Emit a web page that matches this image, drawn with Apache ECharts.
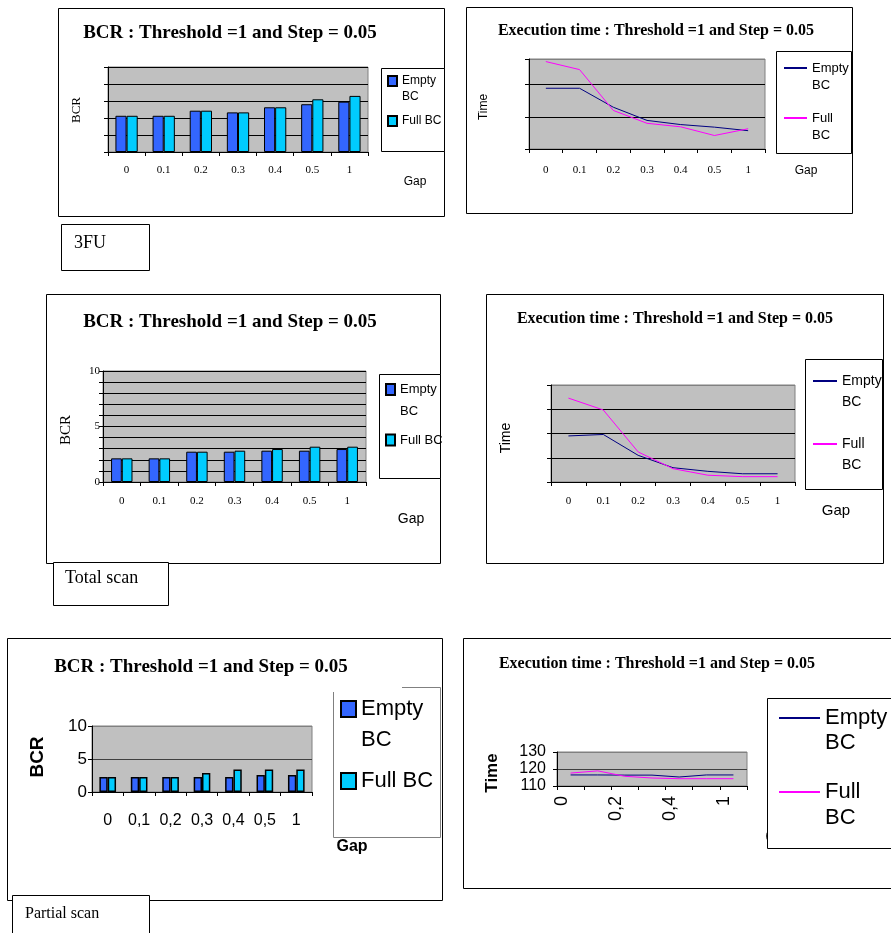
<!DOCTYPE html>
<html>
<head>
<meta charset="utf-8">
<script src="https://cdn.jsdelivr.net/npm/echarts@6/dist/echarts.min.js"></script>
<style>
html,body{margin:0;padding:0;background:#fff;}
#chart{width:891px;height:933px;}
</style>
</head>
<body>
<div id="chart"></div>
<script>
// ---------------- DATA ----------------
const gapLabels = ['0', '0.1', '0.2', '0.3', '0.4', '0.5', '1'];
const gapLabelsComma = ['0', '0,1', '0,2', '0,3', '0,4', '0,5', '1'];

const fu3BcrEmpty = [2.13, 2.13, 2.43, 2.33, 2.63, 2.81, 2.96];
const fu3BcrFull  = [2.13, 2.13, 2.43, 2.33, 2.63, 3.10, 3.30];
const fu3TimeEmpty = [1.89, 1.89, 1.30, 0.89, 0.76, 0.68, 0.57];
const fu3TimeFull  = [2.72, 2.47, 1.20, 0.80, 0.69, 0.42, 0.63];

const totalBcrEmpty = [2.13, 2.13, 2.73, 2.73, 2.82, 2.82, 2.97];
const totalBcrFull  = [2.13, 2.13, 2.73, 2.82, 2.97, 3.18, 3.18];
const totalTimeEmpty = [1.90, 1.96, 1.10, 0.59, 0.44, 0.34, 0.34];
const totalTimeFull  = [3.46, 2.97, 1.24, 0.55, 0.28, 0.22, 0.22];

const partialBcrEmpty = [2.28, 2.28, 2.28, 2.28, 2.28, 2.59, 2.59];
const partialBcrFull  = [2.28, 2.28, 2.28, 2.89, 3.40, 3.40, 3.40];
const partialTimeEmpty = [116.5, 116.5, 116.4, 116.4, 115.3, 116.5, 116.5];
const partialTimeFull  = [117.6, 118.9, 115.7, 114.7, 114.3, 114.3, 114.3];

const bcrTitle = 'BCR : Threshold =1 and Step = 0.05';
const timeTitle = 'Execution time : Threshold =1 and Step = 0.05';

// ---------------- STYLE ----------------
const SERIF = "'Liberation Serif', 'Times New Roman', serif";
const SANS = "'Liberation Sans', Arial, sans-serif";
const C_EMPTY_BAR = '#3366ff';
const C_FULL_BAR = '#00ccff';
const C_EMPTY_LINE = '#000080';
const C_FULL_LINE = '#ff00ff';
const PLOT_BG = '#c0c0c0';

const grids = [
  {left: 108, top: 67, width: 260, height: 85},
  {left: 529, top: 59, width: 236, height: 90},
  {left: 103, top: 371, width: 263, height: 111},
  {left: 551, top: 385, width: 244, height: 97},
  {left: 92, top: 726, width: 220, height: 66},
  {left: 557, top: 752, width: 190, height: 34}
].map(g => Object.assign({show: true, backgroundColor: PLOT_BG, borderColor: '#808080', borderWidth: 1, containLabel: false, outerBoundsMode: 'none'}, g));

function xAx(i, data, labelOpts) {
  return {
    type: 'category', gridIndex: i, data: data, boundaryGap: true,
    axisLine: {show: true, lineStyle: {color: '#000', width: 1}},
    axisTick: {show: true, length: 4, interval: 0, lineStyle: {color: '#000'}},
    axisLabel: Object.assign({color: '#000'}, labelOpts),
    splitLine: {show: false}
  };
}
function yAx(i, min, max, interval, labelOpts, splitColors) {
  return {
    type: 'value', gridIndex: i, min: min, max: max, interval: interval,
    axisLine: {show: true, lineStyle: {color: '#000', width: 1}},
    axisTick: {show: true, length: 4, lineStyle: {color: '#000'}},
    axisLabel: Object.assign({color: '#000'}, labelOpts),
    splitLine: {show: true, lineStyle: {color: splitColors || '#000', width: 1}}
  };
}

const xAxis = [
  xAx(0, gapLabels, {fontFamily: SERIF, fontSize: 11, margin: 13}),
  xAx(1, gapLabels, {fontFamily: SERIF, fontSize: 11, margin: 16}),
  xAx(2, gapLabels, {fontFamily: SERIF, fontSize: 11, margin: 14}),
  xAx(3, gapLabels, {fontFamily: SERIF, fontSize: 11, margin: 14}),
  xAx(4, gapLabelsComma, {fontFamily: SANS, fontSize: 16, margin: 21, interval: 0}),
  xAx(5, gapLabelsComma, {fontFamily: SANS, fontSize: 18, margin: 10, interval: 1, rotate: 90, verticalAlign: 'bottom'})
];
const yAxis = [
  yAx(0, 0, 5, 1, {show: false}),
  yAx(1, 0, 2.8, 1, {show: false}, ['#000', '#000', '#000', '#808080']),
  yAx(2, 0, 10, 1, {fontFamily: SERIF, fontSize: 11, margin: 3, formatter: v => (v % 5 === 0 ? String(v) : '')}),
  yAx(3, 0, 4, 1, {show: false}, ['#000', '#000', '#000', '#000', '#808080']),
  yAx(4, 0, 10, 5, {fontFamily: SANS, fontSize: 17, margin: 5}, ['#000', '#404040', '#808080']),
  yAx(5, 110, 130, 10, {fontFamily: SANS, fontSize: 16, margin: 11}, ['#000', '#404040', '#808080'])
];

function barSeries(i, name, data, color, gap, bw) {
  return {
    type: 'bar', name: name, xAxisIndex: i, yAxisIndex: i, data: data,
    barGap: '0%', barCategoryGap: gap,
    itemStyle: {color: color, borderColor: '#000', borderWidth: bw || 1},
    emphasis: {disabled: true}
  };
}
function lineSeries(i, name, data, color) {
  return {
    type: 'line', name: name, xAxisIndex: i, yAxisIndex: i, data: data,
    symbol: 'none', showSymbol: false,
    lineStyle: {color: color, width: 1}, itemStyle: {color: color},
    emphasis: {disabled: true}
  };
}

const series = [
  barSeries(0, '3FU BCR - Empty BC', fu3BcrEmpty, C_EMPTY_BAR, '40%'),
  barSeries(0, '3FU BCR - Full BC', fu3BcrFull, C_FULL_BAR, '40%'),
  lineSeries(1, '3FU Time - Empty BC', fu3TimeEmpty, C_EMPTY_LINE),
  lineSeries(1, '3FU Time - Full BC', fu3TimeFull, C_FULL_LINE),
  barSeries(2, 'Total BCR - Empty BC', totalBcrEmpty, C_EMPTY_BAR, '43%'),
  barSeries(2, 'Total BCR - Full BC', totalBcrFull, C_FULL_BAR, '43%'),
  lineSeries(3, 'Total Time - Empty BC', totalTimeEmpty, C_EMPTY_LINE),
  lineSeries(3, 'Total Time - Full BC', totalTimeFull, C_FULL_LINE),
  barSeries(4, 'Partial BCR - Empty BC', partialBcrEmpty, C_EMPTY_BAR, '47%', 1.5),
  barSeries(4, 'Partial BCR - Full BC', partialBcrFull, C_FULL_BAR, '47%', 1.5),
  lineSeries(5, 'Partial Time - Empty BC', partialTimeEmpty, C_EMPTY_LINE),
  lineSeries(5, 'Partial Time - Full BC', partialTimeFull, C_FULL_LINE)
];

// one legend per item; two-line labels get a leading blank line so the first
// visible line sits level with the icon
function legendItem(seriesName, display, left, yc, L, iw, ih, size) {
  const two = display.indexOf('\n') >= 0;
  const shown = two ? ' \n' + display : display;
  return {
    data: [seriesName], orient: 'vertical', left: left,
    top: two ? yc - 1.5 * L : yc - Math.max(L, ih) / 2,
    padding: 0, itemGap: 0, itemWidth: iw, itemHeight: ih, selectedMode: false,
    icon: 'rect',
    formatter: () => shown,
    textStyle: {fontFamily: SANS, fontSize: size, lineHeight: L, color: '#000'}
  };
}
const legend = [
  legendItem('3FU BCR - Empty BC', 'Empty\nBC', 387, 81, 16, 9, 10, 12),
  legendItem('3FU BCR - Full BC', 'Full BC', 387, 121, 16, 9, 10, 12),
  legendItem('3FU Time - Empty BC', 'Empty\nBC', 784, 68, 17, 23, 2, 13),
  legendItem('3FU Time - Full BC', 'Full\nBC', 784, 118, 17, 23, 2, 13),
  legendItem('Total BCR - Empty BC', 'Empty\nBC', 385, 389.5, 22, 9, 11, 13),
  legendItem('Total BCR - Full BC', 'Full BC', 385, 440, 22, 9, 11, 13),
  legendItem('Total Time - Empty BC', 'Empty\nBC', 813, 381, 21, 24, 2, 14),
  legendItem('Total Time - Full BC', 'Full\nBC', 813, 444, 21, 24, 2, 14),
  legendItem('Partial BCR - Empty BC', 'Empty\nBC', 340, 709, 31, 15, 16, 22),
  legendItem('Partial BCR - Full BC', 'Full BC', 340, 781, 31, 15, 16, 22),
  legendItem('Partial Time - Empty BC', 'Empty\nBC', 779, 718, 25, 41, 2, 22),
  legendItem('Partial Time - Full BC', 'Full\nBC', 779, 792, 26, 41, 2, 22)
];

function titleAt(text, cx, cy, fs) {
  return {text: text, left: cx, top: cy - fs / 2, textAlign: 'center', padding: 0,
    textStyle: {fontFamily: SERIF, fontWeight: 'bold', fontSize: fs, color: '#000'}};
}
const title = [
  titleAt(bcrTitle, 230, 33, 19),
  titleAt(timeTitle, 656, 31, 16),
  titleAt(bcrTitle, 230, 322, 19),
  titleAt(timeTitle, 675, 319, 16),
  titleAt(bcrTitle, 201, 667, 19),
  titleAt(timeTitle, 657, 664, 16)
];

function frame(x, y, w, h, z, stroke) {
  return {type: 'rect', silent: true, z: z, shape: {x: x + 0.5, y: y + 0.5, width: w, height: h},
    style: {fill: '#fff', stroke: stroke || '#000', lineWidth: 1}};
}
function txt(text, x, y, font, opts, align) {
  const a = align || 'center';
  return Object.assign({type: 'text', silent: true, z: 1, x: x, y: y,
    style: {text: text, font: font, fill: '#000', textAlign: a, align: a, textVerticalAlign: 'middle', verticalAlign: 'middle'}}, opts || {});
}
const R = Math.PI / 2;
const graphicEls = [
  // outer chart frames
  frame(58, 8, 386, 208, -10),
  frame(466, 7, 386, 206, -10),
  frame(46, 294, 394, 269, -10),
  frame(486, 294, 397, 269, -10),
  frame(7, 638, 435, 262, -10),
  frame(463, 638, 440, 250, -10),
  // caption boxes
  frame(61, 224, 88, 46, -5),
  frame(53, 562, 115, 43, -5),
  frame(12, 895, 137, 45, -5),
  txt('3FU', 74, 243, '18px ' + SERIF, {z: -4}, 'left'),
  txt('Total scan', 65, 578, '18px ' + SERIF, {z: -4}, 'left'),
  txt('Partial scan', 25, 914, '16px ' + SERIF, {z: -4}, 'left'),
  // axis titles
  txt('BCR', 77, 110, '13px ' + SERIF, {rotation: R}),
  txt('Gap', 415, 182, '12px ' + SANS),
  txt('Time', 484, 107, '12px ' + SANS, {rotation: R}),
  txt('Gap', 806, 171, '12px ' + SANS),
  txt('BCR', 66, 430, '15px ' + SERIF, {rotation: R}),
  txt('Gap', 411, 519, '14px ' + SANS),
  txt('Time', 506, 438, '14px ' + SANS, {rotation: R}),
  txt('Gap', 836, 511, '15px ' + SANS),
  txt('BCR', 38, 757, 'bold 19px ' + SANS, {rotation: R}),
  txt('Gap', 352, 847, 'bold 16px ' + SANS),
  txt('Time', 492, 773, 'bold 17px ' + SANS, {rotation: R}),
  txt('Gap', 781, 838, 'bold 16px ' + SANS),
  // legend boxes
  frame(381, 68, 63, 83, 3),
  frame(776, 51, 75, 102, 3),
  frame(379, 374, 61, 104, 3),
  frame(805, 359, 77, 130, 3),
  {type: 'polyline', silent: true, z: 3, shape: {points: [[333.5, 692], [333.5, 837.5], [440.5, 837.5], [440.5, 687.5], [402, 687.5]]},
    style: {fill: null, stroke: '#808080', lineWidth: 1}},
  frame(767, 698, 130, 150, 3)
];

const option = {
  animation: false,
  backgroundColor: '#ffffff',
  title: title,
  grid: grids,
  xAxis: xAxis,
  yAxis: yAxis,
  legend: legend,
  series: series,
  graphic: {elements: graphicEls}
};

const chart = echarts.init(document.getElementById('chart'), null, {renderer: 'canvas'});
chart.setOption(option);
</script>
</body>
</html>
